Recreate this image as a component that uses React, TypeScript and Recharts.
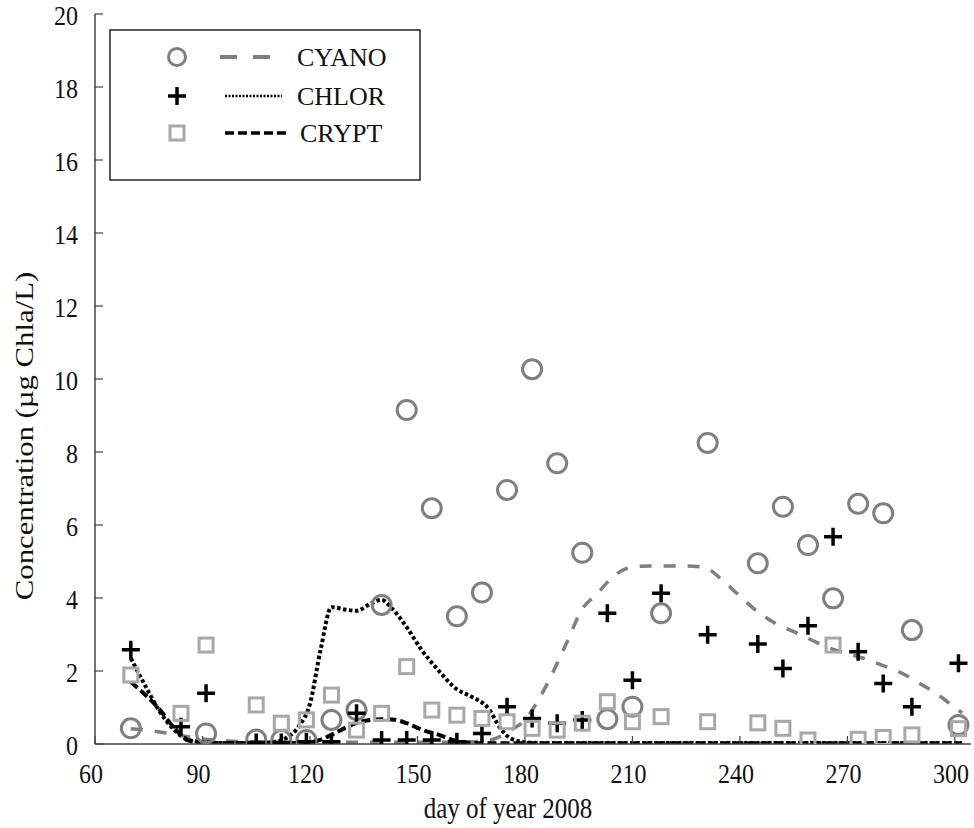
import React from "react";
import { ComposedChart, Scatter, Line, XAxis, YAxis, Legend, Label } from "recharts";

// sampling days (day of year 2008)
const sampleDays = [70, 84, 91, 105, 112, 119, 126, 133, 140, 147, 154, 161, 168, 175, 182, 189, 196, 203, 210, 218, 231, 245, 252, 259, 266, 273, 280, 288, 301];

// observed concentrations (µg Chla/L), null = not plotted
const cyanoObs = [0.43, null, 0.29, 0.12, 0.11, 0.11, 0.66, 0.93, 3.81, 9.15, 6.46, 3.5, 4.15, 6.96, 10.27, 7.69, 5.24, 0.68, 1.02, 3.58, 8.25, 4.95, 6.5, 5.45, 3.99, 6.58, 6.32, 3.12, 0.52];
const chlorObs = [2.58, 0.47, 1.39, 0.04, 0.04, 0.06, 0.06, 0.84, 0.11, 0.11, 0.11, 0.06, 0.29, 1.02, 0.7, 0.57, 0.66, 3.58, 1.75, 4.13, 2.99, 2.74, 2.07, 3.24, 5.68, 2.53, 1.66, 1.02, 2.21];
const cryptObs = [1.89, 0.84, 2.71, 1.07, 0.57, 0.66, 1.34, 0.38, 0.84, 2.12, 0.93, 0.79, 0.7, 0.61, 0.43, 0.38, 0.57, 1.16, 0.61, 0.75, 0.61, 0.58, 0.43, 0.11, 2.71, 0.13, 0.18, 0.25, 0.42];

// simulated curves
const modelDays = [70, 74, 78, 82, 86, 90, 95, 100, 105, 110, 114, 117, 120, 123, 126, 130, 133, 137, 140, 143, 147, 151, 156, 161, 165, 170, 173, 176, 180, 184, 188, 192, 196, 200, 205, 210, 215, 220, 225, 230, 235, 240, 245, 250, 255, 260, 265, 270, 275, 280, 285, 290, 295, 298, 302];
const cyanoModel = [0.42, 0.38, 0.33, 0.27, 0.2, 0.14, 0.1, 0.07, 0.06, 0.05, 0.05, 0.05, 0.05, 0.05, 0.05, 0.05, 0.05, 0.05, 0.05, 0.05, 0.05, 0.05, 0.05, 0.05, 0.06, 0.1, 0.2, 0.38, 0.65, 1.25, 2.0, 2.85, 3.7, 4.1, 4.62, 4.85, 4.88, 4.88, 4.88, 4.84, 4.5, 4.05, 3.62, 3.3, 3.08, 2.85, 2.63, 2.48, 2.33, 2.15, 1.95, 1.67, 1.37, 1.15, 0.85];
const chlorModel = [2.35, 1.6, 0.9, 0.4, 0.12, 0.05, 0.03, 0.03, 0.03, 0.06, 0.2, 0.5, 1.1, 2.6, 3.75, 3.68, 3.65, 3.85, 3.95, 3.7, 3.2, 2.6, 2.0, 1.5, 1.3, 0.95, 0.45, 0.15, 0.05, 0.03, 0.03, 0.03, 0.03, 0.03, 0.03, 0.03, 0.03, 0.03, 0.03, 0.03, 0.03, 0.03, 0.03, 0.03, 0.03, 0.03, 0.03, 0.03, 0.03, 0.03, 0.03, 0.03, 0.03, 0.03, 0.03];
const cryptModel = [1.7, 1.35, 0.95, 0.45, 0.1, 0.03, 0.03, 0.03, 0.03, 0.03, 0.03, 0.03, 0.05, 0.12, 0.25, 0.45, 0.58, 0.66, 0.68, 0.67, 0.57, 0.4, 0.25, 0.08, 0.03, 0.02, 0.02, 0.02, 0.02, 0.02, 0.02, 0.02, 0.02, 0.02, 0.02, 0.02, 0.02, 0.02, 0.02, 0.02, 0.02, 0.02, 0.02, 0.02, 0.02, 0.02, 0.02, 0.02, 0.02, 0.02, 0.02, 0.02, 0.02, 0.02, 0.02];

const xTicks = [60, 90, 120, 150, 180, 210, 240, 270, 300];
const yTicks = [0, 2, 4, 6, 8, 10, 12, 14, 16, 18, 20];

const FONT = "'Liberation Serif', 'Times New Roman', Times, serif";
const CYANO_C = "#7f7f7f";
const CRYPT_C = "#a8a8a8";
const AXIS_C = "#444";

const toPoints = (vals: (number | null)[]) =>
  sampleDays
    .map((day, i) => ({ day, v: vals[i] }))
    .filter((p) => p.v !== null);

const modelRows = modelDays.map((day, i) => ({
  day,
  cyano: cyanoModel[i],
  chlor: chlorModel[i],
  crypt: cryptModel[i],
}));

const CircleMark = (p: any) => (
  <circle cx={p.cx} cy={p.cy} r={9.5} fill="none" stroke={CYANO_C} strokeWidth={3} />
);
const PlusMark = (p: any) => (
  <path
    d={`M${p.cx - 9},${p.cy}H${p.cx + 9}M${p.cx},${p.cy - 9}V${p.cy + 9}`}
    stroke="#000"
    strokeWidth={3.5}
    fill="none"
  />
);
const SquareMark = (p: any) => (
  <rect x={p.cx - 7} y={p.cy - 7} width={14} height={14} fill="none" stroke={CRYPT_C} strokeWidth={3} />
);

function YTick(props: any) {
  const { x, y, payload } = props;
  return (
    <g transform={`translate(${x},${y + 1}) scale(1,1.15)`}>
      <text x={0} y={0} dy="0.35em" textAnchor="end" fontFamily={FONT} fontSize={24} fill="#111">
        {payload.value}
      </text>
    </g>
  );
}

function XTick(props: any) {
  const { x, y, payload } = props;
  return (
    <g transform={`translate(${x - 4},${y}) scale(1,1.18)`}>
      <text x={0} y={0} dy="0.71em" textAnchor="middle" fontFamily={FONT} fontSize={24} fill="#111">
        {payload.value}
      </text>
    </g>
  );
}

const NoTick = () => <g />;

function XTitle(props: any) {
  const vb = props.viewBox;
  return (
    <g transform={`translate(${vb.x + vb.width / 2 - 25},${vb.y + 74}) scale(1,1.2)`}>
      <text textAnchor="middle" fontFamily={FONT} fontSize={25} fill="#111">
        day of year 2008
      </text>
    </g>
  );
}

function YTitle(props: any) {
  const vb = props.viewBox;
  return (
    <g transform={`translate(33,${vb.y + vb.height / 2 + 57}) rotate(-90) scale(1.23,1)`}>
      <text textAnchor="middle" fontFamily={FONT} fontSize={25} fill="#111">
        Concentration (µg Chla/L)
      </text>
    </g>
  );
}

function LegendBox() {
  const tx = 188;
  return (
    <svg width={314} height={154} style={{ display: "block" }}>
      <rect x={1} y={1} width={310} height={150} fill="#fff" stroke="#222" strokeWidth={1.5} />
      {/* CYANO */}
      <circle cx={68} cy={28} r={8.5} fill="none" stroke={CYANO_C} strokeWidth={3} />
      <line x1={111} y1={28} x2={161} y2={28} stroke={CYANO_C} strokeWidth={4} strokeDasharray="17 16" />
      <text x={tx} y={37} fontFamily={FONT} fontSize={26} fill="#111">CYANO</text>
      {/* CHLOR */}
      <path d="M59,67H77M68,58V76" stroke="#000" strokeWidth={3.5} fill="none" />
      <line x1={116} y1={67} x2={173} y2={67} stroke="#000" strokeWidth={2.5} strokeDasharray="2 1.5" />
      <text x={tx} y={76} fontFamily={FONT} fontSize={26} fill="#111">CHLOR</text>
      {/* CRYPT */}
      <rect x={61} y={97} width={14} height={14} fill="none" stroke={CRYPT_C} strokeWidth={3} />
      <line x1={116} y1={104} x2={181} y2={104} stroke="#000" strokeWidth={3.5} strokeDasharray="9 4" />
      <text x={tx + 3} y={113} fontFamily={FONT} fontSize={26} fill="#111">CRYPT</text>
    </svg>
  );
}

export default function App() {
  return (
    <div style={{ position: "absolute", left: 0, top: 0, width: 974, height: 828, background: "#fff" }}>
      <ComposedChart
        width={974}
        height={828}
        data={modelRows}
        margin={{ top: 14, right: 3, bottom: 24, left: 0 }}
      >
        <XAxis
          dataKey="day"
          type="number"
          domain={[60, 304.5]}
          ticks={xTicks}
          interval={0}
          allowDataOverflow
          height={60}
          tickSize={-8}
          tickMargin={27}
          tick={<XTick />}
          axisLine={{ stroke: AXIS_C, strokeWidth: 1.5 }}
          tickLine={{ stroke: AXIS_C, strokeWidth: 1.2 }}
        >
          <Label content={<XTitle />} />
        </XAxis>
        <XAxis
          xAxisId="top"
          orientation="top"
          dataKey="day"
          type="number"
          domain={[60, 304.5]}
          ticks={xTicks}
          interval={0}
          allowDataOverflow
          height={0}
          tickSize={-8}
          tick={<NoTick />}
          axisLine={{ stroke: AXIS_C, strokeWidth: 1.5 }}
          tickLine={{ stroke: AXIS_C, strokeWidth: 1.2 }}
        />
        <YAxis
          type="number"
          domain={[0, 20]}
          ticks={yTicks}
          interval={0}
          allowDataOverflow
          width={95}
          tickSize={-8}
          tickMargin={25}
          tick={<YTick />}
          axisLine={{ stroke: AXIS_C, strokeWidth: 1.5 }}
          tickLine={{ stroke: AXIS_C, strokeWidth: 1.2 }}
        >
          <Label content={<YTitle />} />
        </YAxis>
        <YAxis
          yAxisId="right"
          orientation="right"
          type="number"
          domain={[0, 20]}
          ticks={yTicks}
          interval={0}
          allowDataOverflow
          width={0}
          tickSize={-8}
          tick={<NoTick />}
          axisLine={{ stroke: AXIS_C, strokeWidth: 1.5 }}
          tickLine={{ stroke: AXIS_C, strokeWidth: 1.2 }}
        />
        <Legend
          layout="horizontal"
          verticalAlign="middle"
          align="center"
          content={() => <LegendBox />}
          wrapperStyle={{ position: "absolute", left: 109, top: 29, width: 314, height: 154, margin: 0, padding: 0 }}
        />
        <Scatter data={toPoints(cyanoObs)} dataKey="v" shape={CircleMark} isAnimationActive={false} />
        <Scatter data={toPoints(chlorObs)} dataKey="v" shape={PlusMark} isAnimationActive={false} />
        <Scatter data={toPoints(cryptObs)} dataKey="v" shape={SquareMark} isAnimationActive={false} />
        <Line
          type="monotone"
          dataKey="cyano"
          stroke={CYANO_C}
          strokeWidth={3.5}
          strokeDasharray="12 12"
          dot={false}
          activeDot={false}
          isAnimationActive={false}
        />
        <Line
          type="monotone"
          dataKey="chlor"
          stroke="#000"
          strokeWidth={4}
          strokeDasharray="3.5 2.5"
          dot={false}
          activeDot={false}
          isAnimationActive={false}
        />
        <Line
          type="monotone"
          dataKey="crypt"
          stroke="#000"
          strokeWidth={4}
          strokeDasharray="9 4"
          dot={false}
          activeDot={false}
          isAnimationActive={false}
        />
      </ComposedChart>
    </div>
  );
}
